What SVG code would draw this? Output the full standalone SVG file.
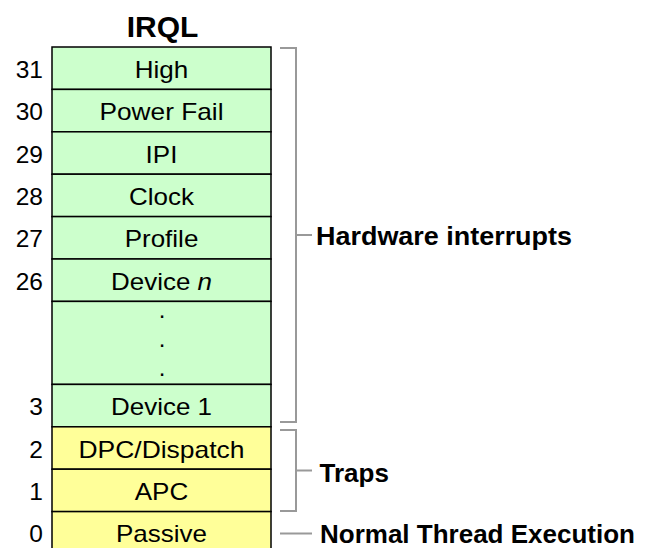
<svg xmlns="http://www.w3.org/2000/svg" width="651" height="548" viewBox="0 0 651 548">
<style>
.g{fill:#CCFFCC;stroke:#000;stroke-width:1.5}
.y{fill:#FFFF99;stroke:#000;stroke-width:1.5}
.t{font-family:"Liberation Sans",Arial,sans-serif;font-size:24px;fill:#000;text-anchor:middle}
.n{font-family:"Liberation Sans",Arial,sans-serif;font-size:24.5px;fill:#000;text-anchor:end}
.b{font-family:"Liberation Sans",Arial,sans-serif;font-size:26px;font-weight:bold;fill:#000}
.br{fill:none;stroke:#999;stroke-width:2}
</style>
<rect width="651" height="548" fill="#fff"/>
<text x="162.5" y="36.7" font-family="'Liberation Sans',Arial,sans-serif" font-size="30" font-weight="bold" text-anchor="middle">IRQL</text>
<g id="l31"><rect class="g" x="52" y="47" width="219" height="42.4"/><text class="t" x="161.5" y="77.7" textLength="53.5" lengthAdjust="spacingAndGlyphs">High</text><text class="n" x="43" y="77.7">31</text></g>
<g id="l30"><rect class="g" x="52" y="89.4" width="219" height="42.4"/><text class="t" x="161.5" y="120.1" textLength="124" lengthAdjust="spacingAndGlyphs">Power Fail</text><text class="n" x="43" y="120.1">30</text></g>
<g id="l29"><rect class="g" x="52" y="131.8" width="219" height="42.4"/><text class="t" x="161.5" y="162.5" textLength="31.8" lengthAdjust="spacingAndGlyphs">IPI</text><text class="n" x="43" y="162.5">29</text></g>
<g id="l28"><rect class="g" x="52" y="174.2" width="219" height="42.4"/><text class="t" x="161.5" y="204.9" textLength="65" lengthAdjust="spacingAndGlyphs">Clock</text><text class="n" x="43" y="204.9">28</text></g>
<g id="l27"><rect class="g" x="52" y="216.6" width="219" height="42.4"/><text class="t" x="161.5" y="247.3" textLength="73.7" lengthAdjust="spacingAndGlyphs">Profile</text><text class="n" x="43" y="247.3">27</text></g>
<g id="l26"><rect class="g" x="52" y="259" width="219" height="42.4"/><text class="t" x="161.5" y="289.7" textLength="101" lengthAdjust="spacingAndGlyphs">Device <tspan font-style="italic">n</tspan></text><text class="n" x="43" y="289.7">26</text></g>
<g id="ldots"><rect class="g" x="52" y="301.4" width="219" height="83"/><text class="t" x="162" y="318">.</text><text class="t" x="162" y="347">.</text><text class="t" x="162" y="376">.</text></g>
<g id="l3"><rect class="g" x="52" y="384.4" width="219" height="42.4"/><text class="t" x="161.5" y="415.1" textLength="101" lengthAdjust="spacingAndGlyphs">Device 1</text><text class="n" x="43" y="415.1">3</text></g>
<g id="l2"><rect class="y" x="52" y="426.8" width="219" height="42.4"/><text class="t" x="161.5" y="457.5" textLength="166" lengthAdjust="spacingAndGlyphs">DPC/Dispatch</text><text class="n" x="43" y="457.5">2</text></g>
<g id="l1"><rect class="y" x="52" y="469.2" width="219" height="42.4"/><text class="t" x="161.5" y="499.9" textLength="53.5" lengthAdjust="spacingAndGlyphs">APC</text><text class="n" x="43" y="499.9">1</text></g>
<g id="l0"><rect class="y" x="52" y="511.6" width="219" height="60"/><text class="t" x="161.5" y="542.3" textLength="91" lengthAdjust="spacingAndGlyphs">Passive</text><text class="n" x="43" y="542.3">0</text></g>
<g id="connectors">
<path class="br" d="M280 48H296V422H280M296 235H312"/>
<path class="br" d="M280 430H296V511H280M296 470.5H312"/>
<path class="br" d="M280 533.5H312"/>
</g>
<g id="hw"><text class="b" x="316" y="245" textLength="256" lengthAdjust="spacingAndGlyphs">Hardware interrupts</text></g>
<g id="traps"><text class="b" x="319.5" y="481.5">Traps</text></g>
<g id="normal"><text class="b" x="320" y="543">Normal Thread Execution</text></g>
</svg>
